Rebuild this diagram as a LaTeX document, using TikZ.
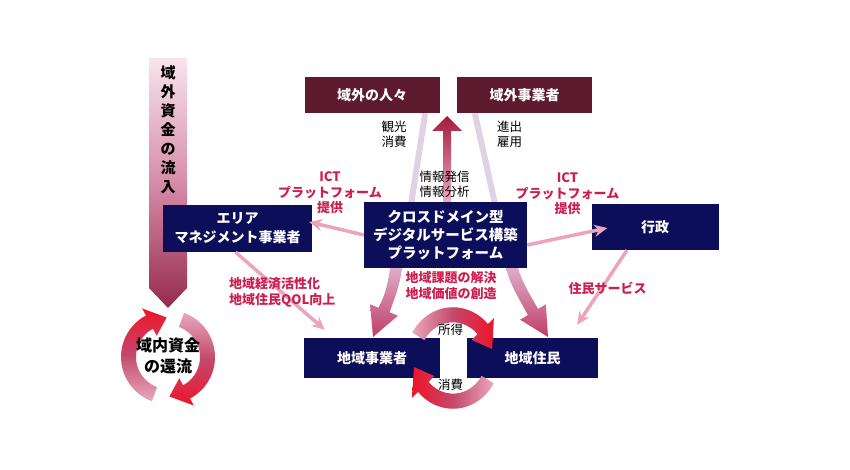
\documentclass[tikz,border=0pt]{standalone}
\usepackage{fontspec}
\setmainfont{Noto Sans CJK JP}
\usetikzlibrary{arrows.meta,backgrounds}

\definecolor{navybox}{RGB}{12,14,90}
\definecolor{maroonbox}{RGB}{94,26,46}
\definecolor{crimsontext}{RGB}{205,30,80}
\definecolor{pinkline}{RGB}{236,164,188}
\definecolor{faintline}{RGB}{222,210,228}
\definecolor{ringlight}{RGB}{232,168,188}
\definecolor{ringmid}{RGB}{196,72,108}
\definecolor{ringhead}{RGB}{238,20,40}
\definecolor{flowtop}{RGB}{248,228,236}
\definecolor{flowmid}{RGB}{214,140,168}
\definecolor{flowbottom}{RGB}{150,42,78}
\definecolor{bigtop}{RGB}{222,172,200}
\definecolor{bigbottom}{RGB}{192,62,102}
\definecolor{uptop}{RGB}{165,25,60}
\definecolor{upbottom}{RGB}{235,172,196}

\tikzset{
  boxnode/.style={text=white, align=center, inner sep=0pt,
    font=\bfseries\fontsize{14}{19}\selectfont},
  navynode/.style={boxnode, fill=navybox},
  maroonnode/.style={boxnode, fill=maroonbox, minimum width=135, minimum height=36},
  blacklabel/.style={align=center, inner sep=0pt, font=\fontsize{12.5}{15}\selectfont},
  redlabel/.style={align=center, inner sep=0pt, text=crimsontext,
    font=\bfseries\fontsize{13}{15.5}\selectfont},
  ringtext/.style={align=center, inner sep=0pt, font=\bfseries\fontsize{16}{21}\selectfont},
  thinarrow/.style={draw=pinkline, line width=3.5pt, -{Stealth[length=13pt,width=12pt]}},
  faint/.style={draw=faintline, line width=6pt},
  flowarrow/.style={top color=flowtop, bottom color=flowbottom, middle color=flowmid},
  bigflow/.style={top color=bigtop, bottom color=bigbottom},
  upflow/.style={top color=uptop, bottom color=upbottom},
  ringdown/.style={top color=ringlight, bottom color=ringhead, middle color=ringmid},
  ringup/.style={top color=ringhead, bottom color=ringlight, middle color=ringmid},
  ringright/.style={left color=ringlight, right color=ringhead, middle color=ringmid},
  ringleft/.style={left color=ringhead, right color=ringlight, middle color=ringmid}
}

% #1 shading, #2 tail angle, #3 end of band, #4 tip angle, #5 inner radius, #6 outer radius
\newcommand{\ringarrow}[6]{%
  \shade[#1] (#2:#6) arc[start angle=#2, end angle=#3, radius=#6]
    -- (#3:{#6+8}) -- (#4:{(#5+#6)/2}) -- (#3:{#5-8})
    -- (#3:#5) arc[start angle=#3, end angle=#2, radius=#5] -- cycle;}

\begin{document}
\begin{tikzpicture}[x=1pt, y=-1pt]
 \path[use as bounding box] (0,0) rectangle (850,470);

 % inflow of outside money
 \shade[flowarrow] (149,58) -- (187,58) -- (187,288) -- (168,308) -- (149,288) -- cycle;
 \node[ringtext, font=\bfseries\fontsize{15}{19}\selectfont] (inflow) at (168,130)
   {域\\外\\資\\金\\の\\流\\入};

 % recycling inside the region
 \begin{scope}[shift={(168,357)}]
  \ringarrow{ringup}{110}{242}{268}{32}{47}
  \ringarrow{ringdown}{290}{422}{448}{32}{47}
 \end{scope}
 \node[ringtext] (recycle) at (168,356) {域内資金\\の還流};

 % boxes
 \node[maroonnode] (ppl) at (372,95) {域外の人々};
 \node[maroonnode] (firm) at (524.5,95) {域外事業者};
 \node[navynode, minimum width=163, minimum height=66,
   font=\bfseries\fontsize{14.5}{18}\selectfont] (plat) at (445.5,235)
   {クロスドメイン型\\デジタルサービス構築\\プラットフォーム};
 \node[navynode, minimum width=149, minimum height=47] (area) at (237.5,228.5)
   {エリア\\マネジメント事業者};
 \node[navynode, minimum width=127, minimum height=46] (gov) at (655,227) {行政};
 \node[navynode, minimum width=136, minimum height=40] (biz) at (372,358) {地域事業者};
 \node[navynode, minimum width=131, minimum height=40] (res) at (532.5,358) {地域住民};

 \begin{scope}[on background layer]
  \draw[faint] ([xshift=-14.5]ppl.south east) -- ([xshift=-40,yshift=-5]plat.center);
  \draw[faint] ([xshift=18]firm.south west) -- ([xshift=57.5,yshift=-5]plat.center);
 \end{scope}

 % platform outputs
 \shade[upflow] (443,202) -- (451,202) -- (451,131) -- (462,131) -- (447,116)
   -- (432,131) -- (443,131) -- cycle;
 \shade[bigflow] (390,268) .. controls (388,285) and (384,298) .. (378.4,307.7)
   -- (370.1,304.3) -- (373,337) -- (397.9,315.7) -- (389.6,312.3)
   .. controls (394,300) and (400,285) .. (402,268) -- cycle;
 \shade[bigflow] (506,268) .. controls (510,285) and (520,300) .. (527.9,315.1)
   -- (520.1,319.7) -- (548,337) -- (545.9,304.3) -- (538.1,308.9)
   .. controls (530,295) and (522,282) .. (518,268) -- cycle;

 \draw[thinarrow] (plat.west) -- ([xshift=-3,yshift=6.5]area.east);
 \draw[thinarrow] ([yshift=-10]plat.east) -- ([xshift=16,yshift=-1]gov.west);
 \draw[thinarrow] ([xshift=-2]area.south) -- ([xshift=21,yshift=8]biz.north west);
 \draw[thinarrow] ([xshift=-28]gov.south) -- ([xshift=-21,yshift=13]res.north east);

 % income and spending
 \begin{scope}[shift={(453,358)}, yscale=1.08]
  \ringarrow{ringright}{210}{318}{348}{33}{47}
  \ringarrow{ringleft}{30}{138}{168}{33}{47}
 \end{scope}

 % labels
 \node[blacklabel] (sight) at (394,134) {観光\\消費};
 \node[blacklabel] (entry) at (509.5,134) {進出\\雇用};
 \node[blacklabel] (info) at (444.5,184.5) {情報発信\\情報分析};
 \node[redlabel] (ictl) at (330,193) {ICT\\プラットフォーム\\提供};
 \node[redlabel] (ictr) at (567.5,194) {ICT\\プラットフォーム\\提供};
 \node[redlabel, align=left, anchor=west] (qol) at (229,292.5)
   {地域経済活性化\\地域住民QOL向上};
 \node[redlabel] (value) at (451,285.5) {地域課題の解決\\地域価値の創造};
 \node[redlabel] (service) at (607.5,288) {住民サービス};
 \node[blacklabel] (income) at (450.5,330) {所得};
 \node[blacklabel] (spend) at (450.5,385) {消費};
\end{tikzpicture}
\end{document}
